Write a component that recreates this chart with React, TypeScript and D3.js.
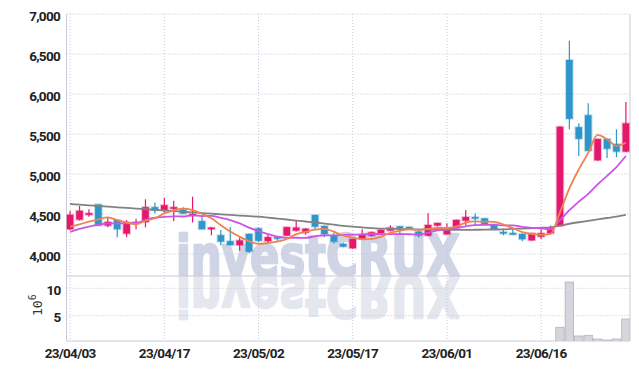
import React from "react";
import * as d3 from "d3";

const dates = [
  "2023-04-03","2023-04-04","2023-04-05","2023-04-06","2023-04-07","2023-04-10","2023-04-11","2023-04-12","2023-04-13","2023-04-14",
  "2023-04-17","2023-04-18","2023-04-19","2023-04-20","2023-04-21","2023-04-24","2023-04-25","2023-04-26","2023-04-27","2023-04-28",
  "2023-05-02","2023-05-03","2023-05-04","2023-05-08","2023-05-09","2023-05-10","2023-05-11","2023-05-12","2023-05-15","2023-05-16",
  "2023-05-17","2023-05-18","2023-05-19","2023-05-22","2023-05-23","2023-05-24","2023-05-25","2023-05-26","2023-05-30","2023-05-31",
  "2023-06-01","2023-06-02","2023-06-05","2023-06-07","2023-06-08","2023-06-09","2023-06-12","2023-06-13","2023-06-14","2023-06-15",
  "2023-06-16","2023-06-19","2023-06-20","2023-06-21","2023-06-22","2023-06-23","2023-06-26","2023-06-27","2023-06-28","2023-06-29",
];

const opens = [
  4310,4430,4490,4620,4355,4425,4255,4380,4400,4585,
  4550,4565,4555,4480,4410,4310,4235,4160,4112,4250,
  4320,4162,4210,4230,4292,4267,4487,4350,4230,4125,
  4072,4187,4229,4262,4292,4345,4337,4280,4230,4355,
  4246,4321,4417,4462,4445,4370,4275,4262,4250,4171,
  4217,4259,4350,6425,5585,5735,5171,5437,5375,5280,
];
const highs = [
  4540,4600,4560,4620,4460,4430,4425,4440,4685,4645,
  4700,4665,4585,4715,4465,4335,4300,4335,4210,4255,
  4335,4245,4212,4340,4425,4325,4490,4355,4265,4140,
  4195,4310,4280,4310,4360,4350,4345,4290,4510,4390,
  4385,4430,4550,4510,4450,4375,4320,4320,4255,4265,
  4310,4355,5600,6665,5635,5885,5440,5445,5560,5900,
];
const lows = [
  4300,4420,4465,4355,4335,4210,4210,4310,4335,4505,
  4515,4410,4500,4395,4305,4235,4110,4110,4040,4010,
  4150,4130,4155,4225,4280,4242,4310,4210,4130,4085,
  4065,4180,4220,4255,4285,4260,4300,4205,4225,4345,
  4240,4315,4355,4360,4365,4305,4235,4240,4160,4165,
  4187,4255,4345,5560,5225,5290,5165,5200,5210,5275,
];
const closes = [
  4490,4540,4510,4355,4400,4310,4395,4400,4585,4545,
  4610,4585,4505,4500,4310,4330,4155,4112,4170,4030,
  4165,4210,4197,4335,4330,4316,4342,4250,4155,4092,
  4187,4237,4271,4300,4329,4320,4325,4230,4362,4387,
  4321,4425,4462,4442,4372,4310,4255,4242,4185,4259,
  4259,4309,5590,5690,5440,5290,5437,5316,5280,5633,
];
// closes of the 9 sessions before 2023-04-03 (needed for the 5/10-day averages)
const priorCloses = [4150,4220,4120,4250,4300,4395,4345,4210,4270];

// 60-day moving average
const ma60 = [
  4625,4617,4609,4600,4592,4584,4576,4568,4560,4552,
  4544,4536,4528,4520,4512,4504,4496,4488,4480,4473,
  4466,4455,4443,4431,4418,4406,4394,4380,4366,4352,
  4342,4332,4323,4318,4315,4312,4310,4308,4306,4304,
  4302,4302,4302,4303,4304,4306,4309,4313,4318,4323,
  4328,4334,4355,4378,4397,4414,4433,4450,4466,4488,
];

// volume, millions of shares
const volumes = [
  0.21,0.18,0.12,0.24,0.15,0.17,0.14,0.11,0.26,0.16,
  0.19,0.15,0.12,0.22,0.17,0.11,0.16,0.13,0.15,0.2,
  0.14,0.1,0.09,0.12,0.14,0.1,0.15,0.11,0.12,0.1,
  0.13,0.11,0.09,0.1,0.12,0.08,0.07,0.1,0.18,0.09,
  0.1,0.13,0.14,0.11,0.1,0.09,0.1,0.08,0.12,0.11,
  0.1,0.14,2.88,11.15,1.3,1.42,0.75,0.57,0.75,4.4,
];

const priceTicks = [4000, 4500, 5000, 5500, 6000, 6500, 7000];
const volumeTicks = [5, 10];
const tickDates = ["2023-04-03","2023-04-17","2023-05-02","2023-05-17","2023-06-01","2023-06-16"];

const W = 639, H = 370;
const L = 66.5, R = 630, T = 14, SEP = 276, B = 341;
const UP = "#e6186c", DOWN = "#2e96c8";
const GRID = "#c3c7da";
const AXIS = "#c9cad6";
const FONT = "Roboto, 'Liberation Sans', sans-serif";

function movingAverage(n: number): number[] {
  const all = priorCloses.concat(closes);
  const off = priorCloses.length;
  return closes.map((_, i) => {
    const s = all.slice(off + i - n + 1, off + i + 1);
    return d3.mean(s) as number;
  });
}

export default function App() {
  const x = d3.scaleBand<string>().domain(dates).range([65.4, 630.6]).padding(0);
  const cx = (d: string) => (x(d) as number) + x.bandwidth() / 2;
  const y = d3.scaleLinear().domain([3725, 7000]).range([SEP, T]);
  const yv = d3.scaleLinear().domain([0, 12.25]).range([343.1, SEP]);
  const bodyW = x.bandwidth() * 0.7;
  const parse = d3.timeParse("%Y-%m-%d");
  const fmt = d3.timeFormat("%y/%m/%d");

  const ma5 = movingAverage(5);
  const ma10 = movingAverage(10);
  const line = d3
    .line<number>()
    .x((_, i) => cx(dates[i]))
    .y((d) => y(d))
    .curve(d3.curveMonotoneX);

  const wm = "investCRUX";

  return (
    <svg width={W} height={H} style={{ position: "absolute", left: 0, top: 0, background: "#fff" }}>
      <defs>
        <clipPath id="priceClip">
          <rect x={L} y={T} width={R - L} height={SEP - T} />
        </clipPath>
        <clipPath id="volClip">
          <rect x={L} y={SEP} width={R - L} height={B - SEP} />
        </clipPath>
      </defs>

      {/* watermark */}
      <g fontFamily="'DejaVu Sans', sans-serif" fontWeight="bold" fontSize={57}>
        <text x={176} y={SEP} textLength={284} lengthAdjust="spacingAndGlyphs" fill="#d0d5e6" stroke="#d0d5e6" strokeWidth={2.4} strokeLinejoin="round">
          {wm}
        </text>
        <g clipPath="url(#volClip)">
          <text
            x={176}
            y={SEP}
            textLength={284}
            lengthAdjust="spacingAndGlyphs"
            fill="#e5e7ef"
            stroke="#e5e7ef"
            strokeWidth={2.4}
            strokeLinejoin="round"
            transform={`translate(0, ${2 * SEP}) scale(1,-1)`}
          >
            {wm}
          </text>
        </g>
      </g>

      {/* grid */}
      <g stroke={GRID} strokeWidth={1} strokeDasharray="1,2" fill="none">
        {priceTicks.map((t) => (
          <line key={"p" + t} x1={L} x2={R} y1={y(t)} y2={y(t)} />
        ))}
        {volumeTicks.map((t) => (
          <line key={"v" + t} x1={L} x2={R} y1={yv(t)} y2={yv(t)} />
        ))}
        {tickDates.map((d) => (
          <line key={"x" + d} x1={cx(d)} x2={cx(d)} y1={T} y2={B} />
        ))}
      </g>

      {/* axes / frame */}
      <g stroke={AXIS} strokeWidth={1}>
        <line x1={L} x2={L} y1={T} y2={B} />
        <line x1={R} x2={R} y1={T} y2={B} />
        <line x1={L} x2={R} y1={SEP} y2={SEP} />
        <line x1={L} x2={R} y1={B} y2={B} />
      </g>

      {/* volume */}
      <g clipPath="url(#volClip)">
        {volumes.map((v, i) => {
          const top = yv(v);
          return (
            <rect
              key={"vb" + i}
              x={(x(dates[i]) as number) + 0.5}
              y={top}
              width={x.bandwidth() - 1}
              height={Math.max(0, 343.1 - top)}
              fill="#d5d5dd"
              stroke="#b3b3bf"
              strokeWidth={0.8}
            />
          );
        })}
      </g>

      {/* candles */}
      <g clipPath="url(#priceClip)">
        {dates.map((d, i) => {
          const o = opens[i], c = closes[i], h = highs[i], l = lows[i];
          const col = c >= o ? UP : DOWN;
          const yt = y(Math.max(o, c));
          const yb = y(Math.min(o, c));
          const px = cx(d);
          return (
            <g key={d}>
              <line x1={px} x2={px} y1={y(h)} y2={y(l)} stroke={col} strokeWidth={1.2} />
              <rect
                x={px - bodyW / 2}
                y={yt}
                width={bodyW}
                height={Math.max(1.5, yb - yt)}
                fill={col}
                stroke={col}
                strokeOpacity={0.3}
                strokeWidth={2}
              />
            </g>
          );
        })}
        <path d={line(ma60) as string} fill="none" stroke="#828282" strokeWidth={1.8} />
        <path d={line(ma10) as string} fill="none" stroke="#cc55e8" strokeWidth={1.8} />
        <path d={line(ma5) as string} fill="none" stroke="#ef8350" strokeWidth={1.8} />
      </g>

      {/* y labels */}
      <g fontFamily={FONT} fontWeight={700} fontSize={13.5} fill="#222" textAnchor="end" letterSpacing={-0.7}>
        {priceTicks.map((t) => (
          <text key={"pl" + t} x={60} y={y(t) + 6.5}>
            {d3.format(",")(t)}
          </text>
        ))}
        {volumeTicks.map((t) => (
          <text key={"vl" + t} x={60.5} y={yv(t) + 6.5}>
            {t}
          </text>
        ))}
      </g>

      {/* unit label */}
      <g transform="translate(41.5, 316) rotate(-90)" fontFamily="'DejaVu Sans Mono', monospace" fontSize={13} fill="#333">
        <text x={0} y={0}>
          10
          <tspan fontSize={10} dy={-6}>6</tspan>
        </text>
      </g>

      {/* x labels */}
      <g fontFamily={FONT} fontWeight={700} fontSize={13.5} fill="#222" textAnchor="middle" letterSpacing={-0.7}>
        {tickDates.map((d) => (
          <text key={"xl" + d} x={cx(d)} y={357.5}>
            {fmt(parse(d) as Date)}
          </text>
        ))}
      </g>
    </svg>
  );
}
